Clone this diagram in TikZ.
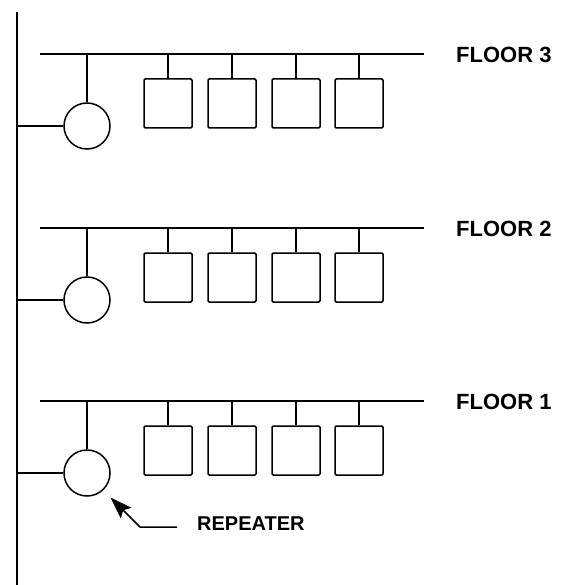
\documentclass[tikz,border=0pt]{standalone}
\usepackage{fontspec}
\setmainfont{Liberation Sans}
\usetikzlibrary{arrows.meta}
\begin{document}
\begin{tikzpicture}[x=1pt,y=-1pt,
  backbone/.style={line width=2.8pt},
  bus/.style={line width=2.8pt},
  wire/.style={line width=1.5pt},
  station/.style={draw,line width=1.5pt,minimum width=48pt,minimum height=49pt,rounded corners=1.2pt,inner sep=0pt},
  repeater/.style={draw,circle,line width=1.5pt,minimum size=46pt,inner sep=0pt},
  label/.style={font=\bfseries\fontsize{22}{24}\selectfont,anchor=west,inner sep=0pt}]
\useasboundingbox (0,0) rectangle (563,585);
% building backbone cable
\coordinate (bbtop) at (17,12);
\coordinate (bbbot) at (17,585);
\draw[backbone] (bbtop) -- (bbbot);
% one floor segment per level
\foreach \f/\y in {3/54,2/228,1/401}{
  \coordinate (busL\f) at (40,\y);
  \coordinate (busR\f) at (424,\y);
  \draw[bus] (busL\f) -- (busR\f);
  \node[repeater] (rep\f) at (87,\y+72) {};
  \coordinate (tapR\f) at (87,\y);
  \draw[wire] (tapR\f) -- (rep\f.north);
  \coordinate (bbtap\f) at (17,\y+72);
  \draw[wire] (bbtap\f) -- (rep\f.west);
  \foreach \i/\x in {1/168,2/232,3/296,4/359}{
    \node[station] (st\f\i) at (\x,\y+49.5) {};
    \coordinate (tap\f\i) at (\x,\y);
    \draw[wire] (tap\f\i) -- (st\f\i.north);
  }
  \node[label] (floor\f) at (456,\y+0.5) {FLOOR \f};
}
% repeater callout
\node[label,font=\bfseries\fontsize{20}{22}\selectfont] (replabel) at (197,524) {REPEATER};
\coordinate (callA) at (177,527);
\coordinate (callB) at (140,527);
\coordinate (callTip) at (110.5,497.5);
\draw[wire,-{Stealth[length=22pt,width=15pt,inset=4pt]}] (callA) -- (callB) -- (callTip);
\end{tikzpicture}
\end{document}
